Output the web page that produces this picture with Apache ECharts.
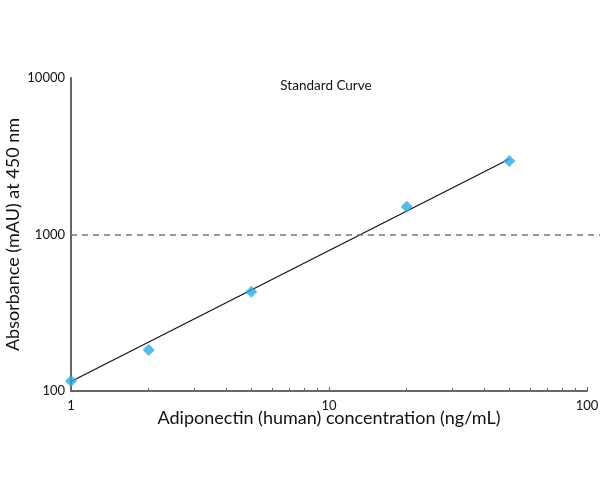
<!DOCTYPE html>
<html>
<head>
<meta charset="utf-8">
<script src="https://cdn.jsdelivr.net/npm/echarts@6/dist/echarts.min.js"></script>
<style>
  html, body { margin: 0; padding: 0; background: #fff; }
  #chart { width: 600px; height: 500px; }
</style>
</head>
<body>
<div id="chart"></div>
<script>
// standards: concentration (ng/mL) vs absorbance (mAU)
const concentrations = [1, 2, 5, 20, 50];
const absorbances = [116, 183, 431, 1506, 2950];

// fitted line end points
const fitX = [1, 50];
const fitY = [115, 3040];

const thresholdLine = 1000;

const chart = echarts.init(document.getElementById("chart"));

const font = "Lato, 'Open Sans', sans-serif";

chart.setOption({
  animation: false,
  title: {
    text: "Standard Curve",
    left: 321,
    top: 74,
    textAlign: "center",
    textStyle: { fontFamily: font, fontSize: 13.5, fontWeight: "normal", color: "#111" },
  },
  grid: [
    { left: 71, right: 13, top: 78, bottom: 109, containLabel: false, outerBoundsMode: "none" },
    { left: 71, right: 0, top: 78, bottom: 109, containLabel: false, outerBoundsMode: "none" },
  ],
  xAxis: [
    {
      type: "log",
      logBase: 10,
      min: 1,
      max: 100,
      gridIndex: 0,
      name: "Adiponectin (human) concentration (ng/mL)",
      nameLocation: "middle",
      nameGap: 18,
      nameMoveOverlap: false,
      nameTextStyle: { fontFamily: font, fontSize: 18, color: "#111" },
      axisLine: { lineStyle: { color: "#666", width: 2 } },
      axisTick: { show: true, inside: true, length: 4, lineStyle: { color: "#666" } },
      minorTick: { show: true, splitNumber: 9, length: 3, lineStyle: { color: "#666" } },
      axisLabel: { fontFamily: font, fontSize: 13, color: "#111", margin: 8, formatter: (v) => String(v) },
      splitLine: { show: false },
    },
    { type: "value", min: 0, max: 1, gridIndex: 1, show: false },
  ],
  yAxis: [
    {
      type: "log",
      logBase: 10,
      min: 100,
      max: 10000,
      gridIndex: 0,
      name: "Absorbance (mAU) at 450 nm",
      nameLocation: "middle",
      nameGap: 49,
      nameMoveOverlap: false,
      nameTextStyle: { fontFamily: font, fontSize: 18, color: "#111" },
      axisLine: { show: true, lineStyle: { color: "#666", width: 2 } },
      axisTick: { show: false },
      axisLabel: { fontFamily: font, fontSize: 13, color: "#111", margin: 6, formatter: (v) => String(v) },
      splitLine: { show: false },
    },
    { type: "log", min: 100, max: 10000, gridIndex: 1, show: false },
  ],
  series: [
    {
      type: "line",
      xAxisIndex: 1,
      yAxisIndex: 1,
      data: [],
      symbol: "none",
      silent: true,
      markLine: {
        symbol: "none",
        silent: true,
        label: { show: false },
        lineStyle: { type: [6, 5], color: "#777", width: 1.5 },
        data: [{ yAxis: thresholdLine }],
      },
    },
    {
      type: "line",
      data: fitX.map((x, i) => [x, fitY[i]]),
      symbol: "none",
      lineStyle: { color: "#111", width: 1.2 },
      z: 3,
    },
    {
      type: "scatter",
      data: concentrations.map((x, i) => [x, absorbances[i]]),
      symbol: "diamond",
      symbolSize: 12,
      itemStyle: { color: "#29abe2" },
      z: 4,
    },
  ],
});
</script>
</body>
</html>
